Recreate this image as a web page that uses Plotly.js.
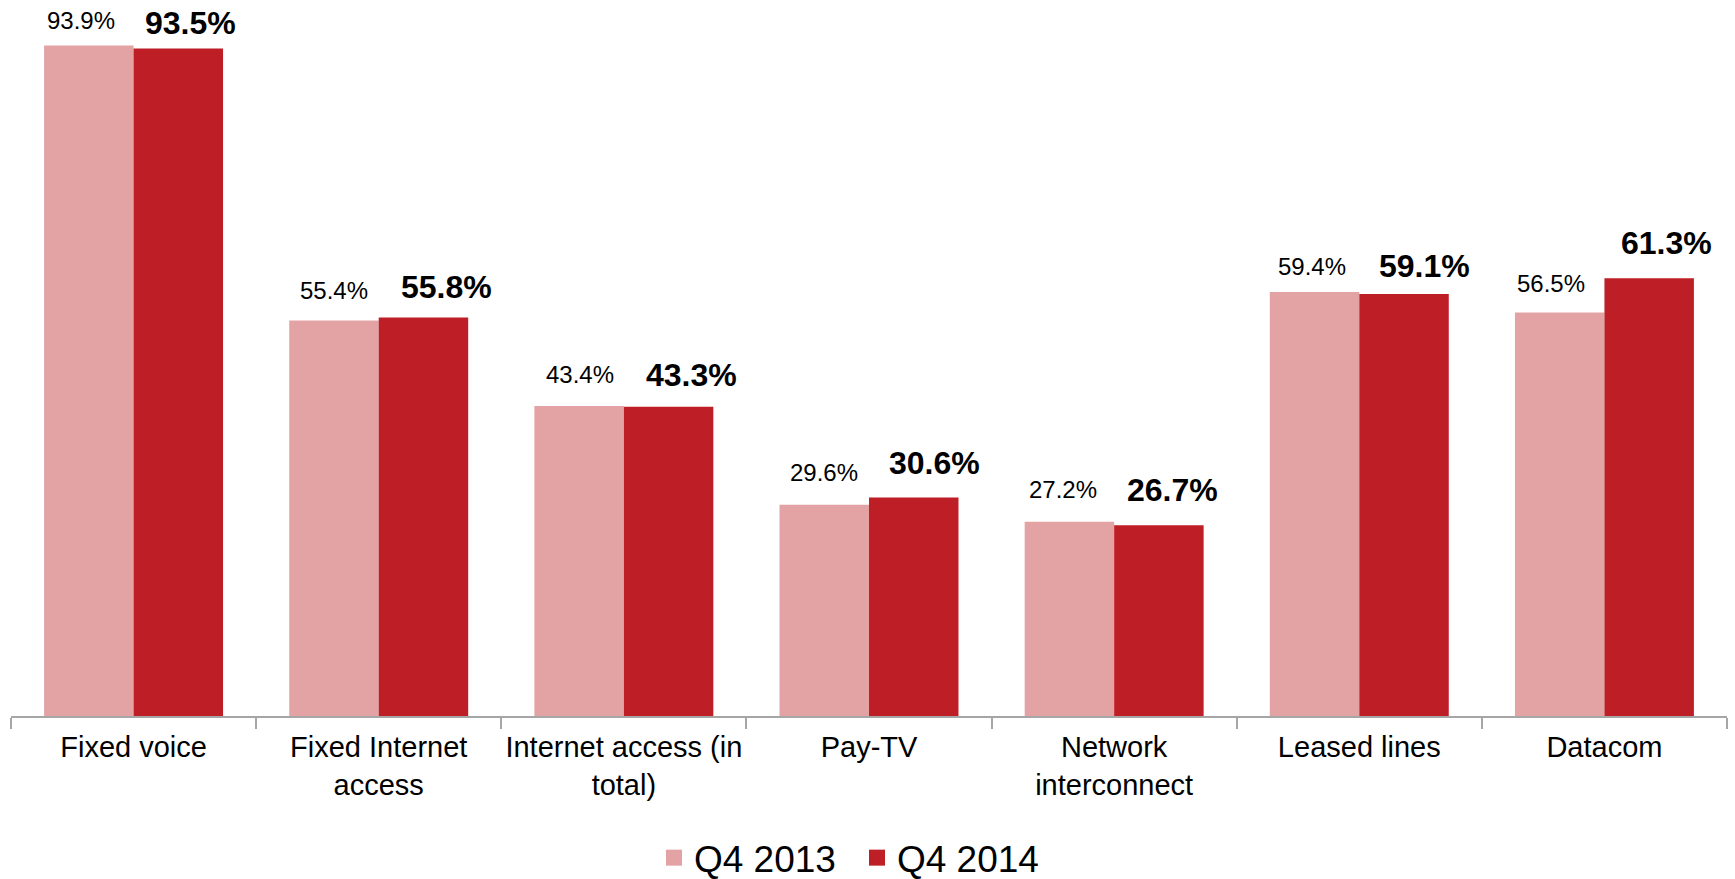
<!DOCTYPE html>
<html>
<head>
<meta charset="utf-8">
<script src="https://cdn.plot.ly/plotly-3.0.1.min.js"></script>
<style>
  html, body { margin: 0; padding: 0; background: #ffffff; }
  #chart { width: 1735px; height: 879px; }
</style>
</head>
<body>
<div id="chart"></div>
<script>
// ---- data ----
const categories = [
  "Fixed voice",
  "Fixed Internet<br>access",
  "Internet access (in<br>total)",
  "Pay-TV",
  "Network<br>interconnect",
  "Leased lines",
  "Datacom"
];
const seriesNames = ["Q4 2013", "Q4 2014"];
const q4_2013 = [93.9, 55.4, 43.4, 29.6, 27.2, 59.4, 56.5];
const q4_2014 = [93.5, 55.8, 43.3, 30.6, 26.7, 59.1, 61.3];

// ---- style ----
const FONT = "Arial, 'Liberation Sans', Helvetica, sans-serif";
const colorLight = "#E3A3A4";
const colorDark = "#BE1E25";
const bargap = 0.27;
const barW = (1 - bargap) / 2;
// pixel nudges of the value labels, as placed in the reference
const nudgeX2013 = [-8, 0, 1, 0, -6, -3, -9];
const nudgeX2014 = [12, 23, 23, 21, 14, 20, 17];
const nudgeY2013 = [-3, 1, 3, 4, 4, -3, 1];
const nudgeY2014 = [-7, -1, 0, 3, 3, -4, 3];

const traces = [
  {
    type: "bar", name: seriesNames[0], x: categories, y: q4_2013,
    marker: { color: colorLight }, hoverinfo: "skip", showlegend: false
  },
  {
    type: "bar", name: seriesNames[1], x: categories, y: q4_2014,
    marker: { color: colorDark }, hoverinfo: "skip", showlegend: false
  },
  // legend entries (square swatches)
  {
    type: "scatter", mode: "markers", name: seriesNames[0], x: [null], y: [null],
    marker: { symbol: "square", size: 16, color: colorLight }, hoverinfo: "skip"
  },
  {
    type: "scatter", mode: "markers", name: seriesNames[1], x: [null], y: [null],
    marker: { symbol: "square", size: 16, color: colorDark }, hoverinfo: "skip"
  }
];

const annotations = [];
q4_2013.forEach((v, i) => {
  annotations.push({
    x: i - barW / 2, y: v, xref: "x", yref: "y",
    text: v.toFixed(1) + "%", showarrow: false,
    xanchor: "center", yanchor: "bottom",
    yshift: 13 + nudgeY2013[i], xshift: nudgeX2013[i],
    font: { family: FONT, size: 24, color: "#000000" }
  });
});
q4_2014.forEach((v, i) => {
  annotations.push({
    x: i + barW / 2, y: v, xref: "x", yref: "y",
    text: "<b>" + v.toFixed(1) + "%</b>", showarrow: false,
    xanchor: "center", yanchor: "bottom",
    yshift: 12 + nudgeY2014[i], xshift: nudgeX2014[i],
    font: { family: FONT, size: 32, color: "#000000" }
  });
});

const layout = {
  width: 1735, height: 879,
  margin: { l: 11, r: 8, t: 2, b: 163, pad: 0, autoexpand: false },
  paper_bgcolor: "#ffffff", plot_bgcolor: "#ffffff",
  font: { family: FONT, color: "#000000" },
  barmode: "group", bargap: bargap, bargroupgap: 0,
  showlegend: true,
  legend: {
    orientation: "h", x: 0.3747, xanchor: "left", y: -0.199, yanchor: "middle",
    font: { family: FONT, size: 37, color: "#000000" },
    bgcolor: "rgba(0,0,0,0)", borderwidth: 0,
    itemsizing: "trace", entrywidth: 158, entrywidthmode: "pixels"
  },
  xaxis: {
    type: "category", automargin: false, tickangle: 0,
    showline: true, linecolor: "#A6A6A6", linewidth: 2,
    ticks: "outside", tickson: "boundaries", ticklen: 11, tickwidth: 2, tickcolor: "#A6A6A6",
    ticklabelstandoff: 4,
    tickfont: { family: FONT, size: 29, color: "#000000" },
    showgrid: false, zeroline: false, fixedrange: true
  },
  yaxis: {
    range: [0, 100], visible: false, showgrid: false, zeroline: false, fixedrange: true
  },
  annotations: annotations
};

Plotly.newPlot("chart", traces, layout, { displayModeBar: false, staticPlot: true });
</script>
</body>
</html>
